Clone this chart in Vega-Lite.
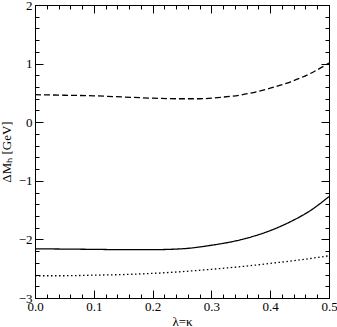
{
  "$schema": "https://vega.github.io/schema/vega-lite/v6.json",
  "width": 294,
  "height": 293,
  "autosize": "none",
  "padding": {"left": 35, "top": 5, "right": 8, "bottom": 29},
  "config": {
    "view": {"stroke": "black", "strokeWidth": 1},
    "axis": {"labelFont": "Liberation Serif", "titleFont": "Liberation Serif", "labelFontSize": 13, "titleFontSize": 13, "labelColor": "black", "titleColor": "black", "domainColor": "black", "tickColor": "black", "grid": false, "titleFontWeight": "normal"}
  },
  "data": {"values": [
    {"s": "a", "x": 0, "y": 0.47}, {"s": "a", "x": 0.05, "y": 0.46}, {"s": "a", "x": 0.1, "y": 0.45}, {"s": "a", "x": 0.15, "y": 0.43}, {"s": "a", "x": 0.2, "y": 0.41}, {"s": "a", "x": 0.25, "y": 0.40}, {"s": "a", "x": 0.28, "y": 0.40}, {"s": "a", "x": 0.31, "y": 0.42}, {"s": "a", "x": 0.35, "y": 0.465}, {"s": "a", "x": 0.4, "y": 0.58}, {"s": "a", "x": 0.435, "y": 0.69}, {"s": "a", "x": 0.47, "y": 0.84}, {"s": "a", "x": 0.5, "y": 1.01},
    {"s": "b", "x": 0, "y": -2.16}, {"s": "b", "x": 0.05, "y": -2.165}, {"s": "b", "x": 0.1, "y": -2.17}, {"s": "b", "x": 0.15, "y": -2.175}, {"s": "b", "x": 0.2, "y": -2.175}, {"s": "b", "x": 0.25, "y": -2.16}, {"s": "b", "x": 0.3, "y": -2.10}, {"s": "b", "x": 0.35, "y": -2.005}, {"s": "b", "x": 0.4, "y": -1.85}, {"s": "b", "x": 0.434, "y": -1.70}, {"s": "b", "x": 0.468, "y": -1.51}, {"s": "b", "x": 0.5, "y": -1.27},
    {"s": "c", "x": 0, "y": -2.62}, {"s": "c", "x": 0.05, "y": -2.62}, {"s": "c", "x": 0.1, "y": -2.61}, {"s": "c", "x": 0.15, "y": -2.60}, {"s": "c", "x": 0.2, "y": -2.58}, {"s": "c", "x": 0.25, "y": -2.55}, {"s": "c", "x": 0.3, "y": -2.51}, {"s": "c", "x": 0.35, "y": -2.465}, {"s": "c", "x": 0.4, "y": -2.41}, {"s": "c", "x": 0.45, "y": -2.35}, {"s": "c", "x": 0.5, "y": -2.28}
  ]},
  "resolve": {"axis": {"x": "independent", "y": "independent"}},
  "layer": [
    {
      "mark": {"type": "line", "color": "black", "strokeWidth": 1.3, "interpolate": "monotone"},
      "encoding": {
        "x": {"field": "x", "type": "quantitative", "scale": {"domain": [0, 0.5], "nice": false}, "axis": {"orient": "bottom", "title": "λ=κ", "values": [0, 0.1, 0.2, 0.3, 0.4, 0.5], "tickSize": -8, "labelPadding": 10, "titlePadding": 2, "labelFlush": false}},
        "y": {"field": "y", "type": "quantitative", "scale": {"domain": [-3, 2], "nice": false}, "axis": {"orient": "left", "title": "ΔMₕ [GeV]", "values": [-3, -2, -1, 0, 1, 2], "tickSize": -8, "labelPadding": 11, "titlePadding": 5, "labelFlush": false}},
        "detail": {"field": "s"},
        "strokeDash": {"field": "s", "type": "nominal", "legend": null, "scale": {"domain": ["a", "b", "c"], "range": [[6, 3], [1, 0], [1.5, 2.5]]}}
      }
    },
    {
      "mark": {"type": "line", "opacity": 0},
      "encoding": {
        "x": {"field": "x", "type": "quantitative", "axis": {"orient": "top", "title": null, "labels": false, "values": [0, 0.1, 0.2, 0.3, 0.4, 0.5], "tickSize": -8}},
        "y": {"field": "y", "type": "quantitative", "axis": {"orient": "right", "title": null, "labels": false, "values": [-3, -2, -1, 0, 1, 2], "tickSize": -8}},
        "detail": {"field": "s"}
      }
    },
    {
      "mark": {"type": "line", "opacity": 0},
      "encoding": {
        "x": {"field": "x", "type": "quantitative", "axis": {"orient": "bottom", "title": null, "labels": false, "domain": false, "values": [0.02, 0.04, 0.06, 0.08, 0.12, 0.14, 0.16, 0.18, 0.22, 0.24, 0.26, 0.28, 0.32, 0.34, 0.36, 0.38, 0.42, 0.44, 0.46, 0.48], "tickSize": -4}},
        "y": {"field": "y", "type": "quantitative", "axis": {"orient": "left", "title": null, "labels": false, "domain": false, "values": [-2.8, -2.6, -2.4, -2.2, -1.8, -1.6, -1.4, -1.2, -0.8, -0.6, -0.4, -0.2, 0.2, 0.4, 0.6, 0.8, 1.2, 1.4, 1.6, 1.8], "tickSize": -4}},
        "detail": {"field": "s"}
      }
    },
    {
      "mark": {"type": "line", "opacity": 0},
      "encoding": {
        "x": {"field": "x", "type": "quantitative", "axis": {"orient": "top", "title": null, "labels": false, "domain": false, "values": [0.02, 0.04, 0.06, 0.08, 0.12, 0.14, 0.16, 0.18, 0.22, 0.24, 0.26, 0.28, 0.32, 0.34, 0.36, 0.38, 0.42, 0.44, 0.46, 0.48], "tickSize": -4}},
        "y": {"field": "y", "type": "quantitative", "axis": {"orient": "right", "title": null, "labels": false, "domain": false, "values": [-2.8, -2.6, -2.4, -2.2, -1.8, -1.6, -1.4, -1.2, -0.8, -0.6, -0.4, -0.2, 0.2, 0.4, 0.6, 0.8, 1.2, 1.4, 1.6, 1.8], "tickSize": -4}},
        "detail": {"field": "s"}
      }
    }
  ]
}
